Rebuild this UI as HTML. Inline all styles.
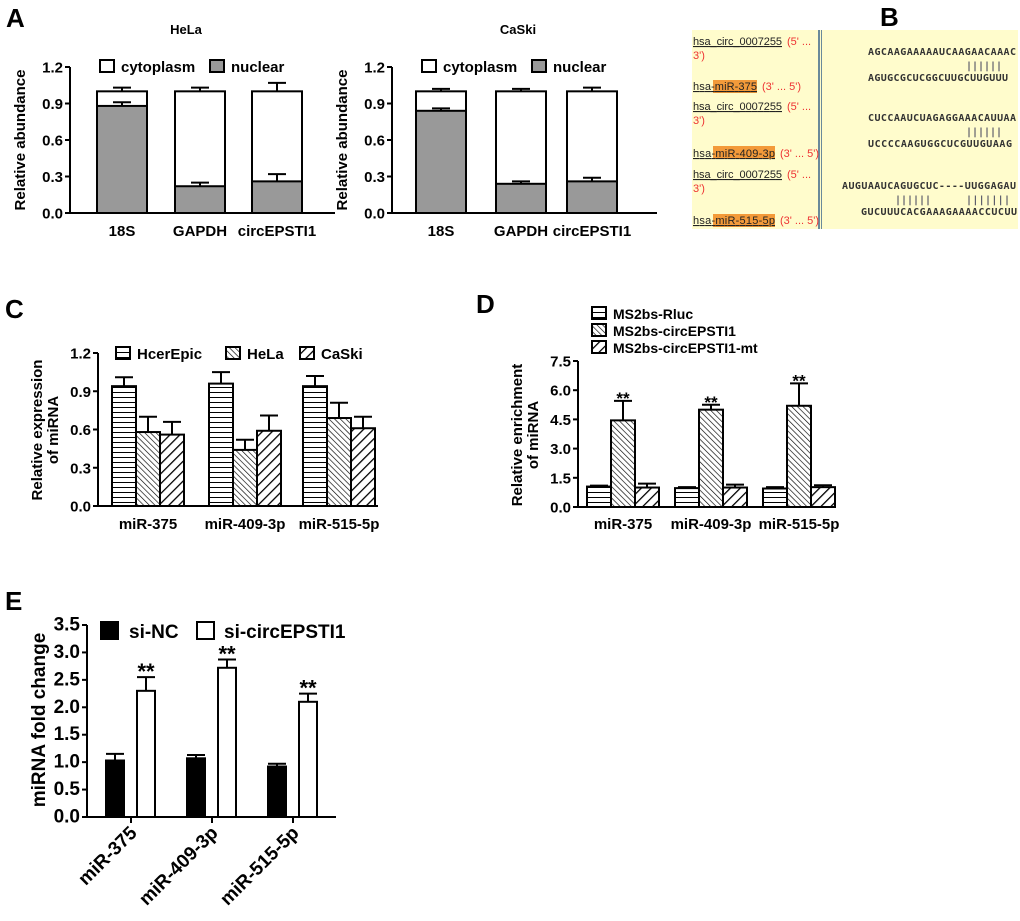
<!DOCTYPE html>
<html><head><meta charset="utf-8"><style>
body{margin:0;background:#fff;}
svg{display:block;font-family:"Liberation Sans",Arial,sans-serif;}
.b{font-weight:bold;}
</style></head><body>
<svg id="fig" width="1020" height="921" viewBox="0 0 1020 921">
<defs>
<pattern id="pH" width="6" height="5" patternUnits="userSpaceOnUse"><rect width="6" height="5" fill="#fff"/><line x1="0" y1="2.5" x2="6" y2="2.5" stroke="#000" stroke-width="1"/></pattern>
<pattern id="pD" width="4" height="4" patternUnits="userSpaceOnUse" patternTransform="rotate(-45)"><rect width="4" height="4" fill="#fff"/><line x1="0" y1="0" x2="0" y2="4" stroke="#000" stroke-width="1.3"/></pattern>
<pattern id="pW" width="7" height="7" patternUnits="userSpaceOnUse" patternTransform="rotate(45)"><rect width="7" height="7" fill="#fff"/><line x1="0" y1="0" x2="0" y2="7" stroke="#000" stroke-width="2.6"/></pattern>
</defs>
<g id="root"></g>
<text x="6" y="27" font-size="26" class="b">A</text>
<text x="880" y="26" font-size="26" class="b">B</text>
<text x="5" y="318" font-size="26" class="b">C</text>
<text x="476" y="313" font-size="26" class="b">D</text>
<text x="5" y="610" font-size="26" class="b">E</text>
<text x="186" y="34" font-size="13" class="b" text-anchor="middle">HeLa</text>
<text x="518" y="34" font-size="13" class="b" text-anchor="middle">CaSki</text>
<g>
<rect x="692" y="30" width="326" height="199" fill="#fffccc"/>
<rect x="818" y="30" width="2" height="199" fill="#6a8a9a"/>
<rect x="821" y="30" width="1" height="199" fill="#6a8a9a"/>
<g font-size="11" fill="#222">
<text x="693" y="45" text-decoration="underline" textLength="89">hsa_circ_0007255</text><text x="787" y="45" fill="#e33">(5' ...</text><text x="693" y="59" fill="#e33">3')</text>
<rect x="713" y="80" width="44" height="13" fill="#f39a3a"/>
<text x="693" y="90" text-decoration="underline" textLength="64">hsa-miR-375</text><text x="762" y="90" fill="#e33">(3' ... 5')</text>
<text x="693" y="110" text-decoration="underline" textLength="89">hsa_circ_0007255</text><text x="787" y="110" fill="#e33">(5' ...</text><text x="693" y="124" fill="#e33">3')</text>
<rect x="713" y="146" width="62" height="13" fill="#f39a3a"/>
<text x="693" y="157" text-decoration="underline" textLength="82">hsa-miR-409-3p</text><text x="780" y="157" fill="#e33">(3' ... 5')</text>
<text x="693" y="178" text-decoration="underline" textLength="89">hsa_circ_0007255</text><text x="787" y="178" fill="#e33">(5' ...</text><text x="693" y="192" fill="#e33">3')</text>
<rect x="713" y="214" width="62" height="13" fill="#f39a3a"/>
<text x="693" y="224" text-decoration="underline" textLength="82">hsa-miR-515-5p</text><text x="780" y="224" fill="#e33">(3' ... 5')</text>
</g>
<g font-size="10" font-weight="bold" font-family="'DejaVu Sans Mono','Liberation Mono',monospace" fill="#333">
<text x="868" y="55" textLength="148">AGCAAGAAAAAUCAAGAACAAAC</text>
<text x="966" y="69" fill="#556" textLength="36">||||||</text>
<text x="868" y="81" textLength="140">AGUGCGCUCGGCUUGCUUGUUU</text>
<text x="868" y="121" textLength="148">CUCCAAUCUAGAGGAAACAUUAA</text>
<text x="966" y="135" fill="#556" textLength="36">||||||</text>
<text x="868" y="147" textLength="144">UCCCCAAGUGGCUCGUUGUAAG</text>
<text x="842" y="189" textLength="174">AUGUAAUCAGUGCUC----UUGGAGAU</text>
<text x="895" y="203" fill="#556" textLength="36">||||||</text>
<text x="966" y="203" fill="#556" textLength="44">|||||||</text>
<text x="861" y="215" textLength="156">GUCUUUCACGAAAGAAAACCUCUU</text>
</g>
</g>
</svg>
<script>
const aCats = ["18S","GAPDH","circEPSTI1"];
const helaNuclear = [0.88,0.22,0.26];
const helaNuclearErr = [0.03,0.03,0.06];
const helaTotal = [1.0,1.0,1.0];
const helaTotalErr = [0.03,0.03,0.07];
const caskiNuclear = [0.84,0.24,0.26];
const caskiNuclearErr = [0.02,0.02,0.03];
const caskiTotal = [1.0,1.0,1.0];
const caskiTotalErr = [0.02,0.02,0.03];
const aTicks = ["0.0","0.3","0.6","0.9","1.2"];
const cCats = ["miR-375","miR-409-3p","miR-515-5p"];
const cHcer = [0.94,0.96,0.94];
const cHcerErr = [0.07,0.09,0.08];
const cHela = [0.58,0.44,0.69];
const cHelaErr = [0.12,0.08,0.12];
const cCaski = [0.56,0.59,0.61];
const cCaskiErr = [0.10,0.12,0.09];
const cTicks = ["0.0","0.3","0.6","0.9","1.2"];
const dCats = ["miR-375","miR-409-3p","miR-515-5p"];
const dRluc = [1.05,0.97,0.95];
const dRlucErr = [0.05,0.05,0.07];
const dCirc = [4.45,5.0,5.2];
const dCircErr = [1.0,0.25,1.15];
const dMt = [1.0,1.0,1.02];
const dMtErr = [0.2,0.15,0.1];
const dTicks = ["0.0","1.5","3.0","4.5","6.0","7.5"];
const eCats = ["miR-375","miR-409-3p","miR-515-5p"];
const eNC = [1.03,1.07,0.92];
const eNCErr = [0.12,0.06,0.05];
const eSi = [2.3,2.72,2.1];
const eSiErr = [0.25,0.15,0.15];
const eTicks = ["0.0","0.5","1.0","1.5","2.0","2.5","3.0","3.5"];

const NS="http://www.w3.org/2000/svg";
const root=document.getElementById('root');
function mk(tag,attrs,parent,txt){const e=document.createElementNS(NS,tag);for(const k in attrs)e.setAttribute(k,attrs[k]);if(txt!==undefined)e.textContent=txt;(parent||root).appendChild(e);return e;}

function axes(g,x0,y0,yTop,xEnd,ticks,fs){
  const ymax=parseFloat(ticks[ticks.length-1]);
  const ys=v=>y0-(v/ymax)*(y0-yTop);
  const ax=mk('line',{x1:x0,y1:y0,x2:x0,y2:yTop,stroke:'#000','stroke-width':2},g);
  
  
  const bx=mk('line',{x1:x0-1,y1:y0,x2:xEnd,y2:y0,stroke:'#000','stroke-width':2},g);
  
  
  ticks.forEach(t=>{const v=parseFloat(t);const y=ys(v);
    mk('line',{x1:x0-5,y1:y,x2:x0,y2:y,stroke:'#000','stroke-width':2},g);
    const tl=mk('text',{x:x0-7,y:y+5.5,'font-size':fs,'font-weight':'bold','text-anchor':'end'},g,t);
    
    
  });
  return ys;
}
function bar(g,x,w,ys,v,fill,err,name){
  const y=ys(v);
  if(err){const ye=ys(v+err);mk('line',{x1:x+w/2,y1:y,x2:x+w/2,y2:ye,stroke:'#000','stroke-width':2},g);mk('line',{x1:x+w/2-9,y1:ye,x2:x+w/2+9,y2:ye,stroke:'#000','stroke-width':2},g);}
  const r=mk('rect',{x:x,y:y,width:w,height:ys(0)-y,fill:fill,stroke:'#000','stroke-width':2},g);
  
  
  return r;
}
function ytitle(g,x,y,lines,fs){
  const t=mk('text',{transform:`translate(${x},${y}) rotate(-90)`,'font-size':fs,'font-weight':'bold','text-anchor':'middle'},g);
  lines.forEach((l,i)=>mk('tspan',{x:0,dy:i?fs+1:0},t,l));
  
  
}
function legendBox(g,x,y,fill,label,fs,name){
  mk('rect',{x:x,y:y,width:14,height:12,fill:fill,stroke:'#000','stroke-width':2},g);
  const t=mk('text',{x:x+21,y:y+12,'font-size':fs,'font-weight':'bold'},g,label);
  
  
}

function panelA(x0,starts,nuc,nucE,tot,totE,nm){
  const g=mk('g',{});
  
  
  const ys=axes(g,x0,213,67,x0+265,aTicks,15);
  ytitle(g,x0-45,140,["Relative abundance"],15);
  aCats.forEach((c,i)=>{const x=x0+starts[i];
    bar(g,x,50,ys,tot[i],'#fff',totE[i],'bar-cytoplasm-'+c);
    bar(g,x,50,ys,nuc[i],'#999',nucE[i],'bar-nuclear-'+c);
    const t=mk('text',{x:x+25,y:236,'font-size':15,'font-weight':'bold','text-anchor':'middle'},g,c);
    
    
  });
  legendBox(g,x0+30,60,'#fff','cytoplasm',15,'legend-cytoplasm');
  legendBox(g,x0+140,60,'#999','nuclear',15,'legend-nuclear');
}
panelA(70,[27,105,182],helaNuclear,helaNuclearErr,helaTotal,helaTotalErr,'hela-chart');
panelA(392,[24,104,175],caskiNuclear,caskiNuclearErr,caskiTotal,caskiTotalErr,'caski-chart');

(function(){
  const g=mk('g',{});
  
  
  const x0=98;const ys=axes(g,x0,506,353,378,cTicks,15);
  ytitle(g,42,430,["Relative expression","of miRNA"],15);
  const gs=[14,111,205];
  cCats.forEach((c,i)=>{const x=x0+gs[i];
    bar(g,x,24,ys,cHcer[i],'url(#pH)',cHcerErr[i],'bar-hcerepic-'+c);
    bar(g,x+24,24,ys,cHela[i],'url(#pD)',cHelaErr[i],'bar-hela-'+c);
    bar(g,x+48,24,ys,cCaski[i],'url(#pW)',cCaskiErr[i],'bar-caski-'+c);
    const t=mk('text',{x:x+36,y:529,'font-size':15,'font-weight':'bold','text-anchor':'middle'},g,c);
    
    
  });
  legendBox(g,116,347,'url(#pH)','HcerEpic',15,'legend-hcerepic');
  legendBox(g,226,347,'url(#pD)','HeLa',15,'legend-hela');
  legendBox(g,300,347,'url(#pW)','CaSki',15,'legend-caski');
})();

(function(){
  const g=mk('g',{});
  
  
  const x0=578;const ys=axes(g,x0,507,361,836,dTicks,15);
  ytitle(g,522,435,["Relative enrichment","of miRNA"],15);
  const gs=[9,97,185];
  dCats.forEach((c,i)=>{const x=x0+gs[i];
    bar(g,x,24,ys,dRluc[i],'url(#pH)',dRlucErr[i],'bar-rluc-'+c);
    bar(g,x+24,24,ys,dCirc[i],'url(#pD)',dCircErr[i],'bar-circepsti1-'+c);
    bar(g,x+48,24,ys,dMt[i],'url(#pW)',dMtErr[i],'bar-mt-'+c);
    const s=mk('text',{x:x+36,y:ys(dCirc[i]+dCircErr[i])+3,'font-size':17,'font-weight':'bold','text-anchor':'middle'},g,'**');
    
    
    const t=mk('text',{x:x+36,y:529,'font-size':15,'font-weight':'bold','text-anchor':'middle'},g,c);
    
    
  });
  legendBox(g,592,307,'url(#pH)','MS2bs-Rluc',14,'legend-rluc');
  legendBox(g,592,324,'url(#pD)','MS2bs-circEPSTI1',14,'legend-circepsti1');
  legendBox(g,592,341,'url(#pW)','MS2bs-circEPSTI1-mt',14,'legend-circepsti1-mt');
})();

(function(){
  const g=mk('g',{});
  
  
  const x0=87;const ys=axes(g,x0,817,625,336,eTicks,19);
  ytitle(g,45,720,["miRNA fold change"],19);
  const gs=[19,100,181];
  eCats.forEach((c,i)=>{const x=x0+gs[i];
    bar(g,x,18,ys,eNC[i],'#000',eNCErr[i],'bar-si-nc-'+c);
    bar(g,x+31,18,ys,eSi[i],'#fff',eSiErr[i],'bar-si-circepsti1-'+c);
    mk('line',{x1:x+25,y1:817,x2:x+25,y2:823,stroke:'#000','stroke-width':2},g);
    const s=mk('text',{x:x+40,y:ys(eSi[i]+eSiErr[i])+2,'font-size':22,'font-weight':'bold','text-anchor':'middle'},g,'**');
    
    
    const t=mk('text',{transform:`translate(${x+32},${834}) rotate(-45)`,'font-size':19,'font-weight':'bold','text-anchor':'end'},g,c);
    
    
  });
  mk('rect',{x:101,y:622,width:17,height:17,fill:'#000',stroke:'#000','stroke-width':2},g);
  const l1=mk('text',{x:129,y:638,'font-size':19,'font-weight':'bold'},g,'si-NC');
  
  
  mk('rect',{x:197,y:622,width:17,height:17,fill:'#fff',stroke:'#000','stroke-width':2},g);
  const l2=mk('text',{x:224,y:638,'font-size':19,'font-weight':'bold'},g,'si-circEPSTI1');
  
  
})();
</script>
</body></html>
